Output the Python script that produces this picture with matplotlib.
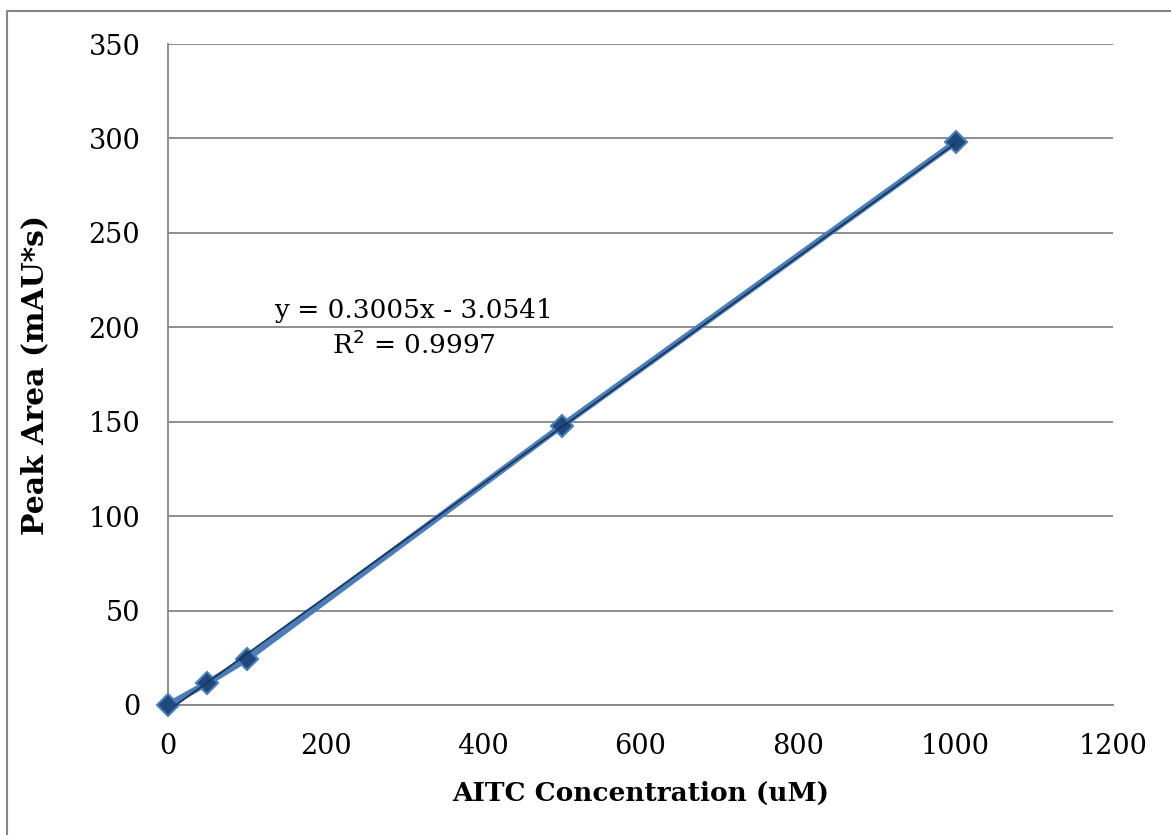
import matplotlib
matplotlib.use('Agg')
import matplotlib.pyplot as plt
from matplotlib.lines import Line2D

# calibration data
conc = [0, 50, 100, 500, 1000]
area = [0, 11.6, 24.3, 147.8, 298.0]
slope = 0.3005
intercept = -3.0541
r2 = 0.9997

plt.rcParams['font.family'] = ['DejaVu Serif']

fig = plt.figure(figsize=(11.71, 8.35), dpi=100)
ax = fig.add_axes([0.1435, 0.1557, 0.807, 0.7916])

# border round the chart: only left and top edges are inside the picture
bx = 7 / 1171
by = 1 - 11 / 835
fig.lines.append(Line2D([bx, bx, 1], [0, by, by], transform=fig.transFigure,
                        color='#868686', linewidth=1.5))

ax.plot(conc, area, color='#4A7EBB', linewidth=4.5, marker='D', markersize=11,
        markerfacecolor='#1F497D', markeredgecolor='#4A7EBB', markeredgewidth=1.5,
        zorder=3, clip_on=False)
tx = [conc[0], conc[-1]]
ax.plot(tx, [slope * v + intercept for v in tx], color='#17375E', linewidth=1.3, zorder=4)

ax.set_xlim(0, 1200)
ax.set_ylim(0, 350)
ax.set_xticks(range(0, 1201, 200))
ax.set_yticks(range(0, 351, 50))
ax.grid(axis='y', color='#868686', linewidth=1.3)
ax.set_axisbelow(True)
for s in ['top', 'right']:
    ax.spines[s].set_visible(False)
for s in ['left', 'bottom']:
    ax.spines[s].set_color('#868686')
    ax.spines[s].set_linewidth(1.3)
ax.tick_params(length=0, labelsize=19.5)
ax.tick_params(axis='y', pad=20)
ax.tick_params(axis='x', pad=20)

ax.set_xlabel('AITC Concentration (uM)', fontsize=19, fontweight='bold', labelpad=15)
ax.set_ylabel('Peak Area (mAU*s)', fontsize=21.5, fontweight='bold', labelpad=28)

ax.text(312, 209, 'y = 0.3005x - 3.0541', fontsize=19, ha='center', va='center')
ax.text(312, 191, 'R$^2$ = %.4f' % r2, fontsize=19, ha='center', va='center')

fig.savefig('out.png', dpi=100)
